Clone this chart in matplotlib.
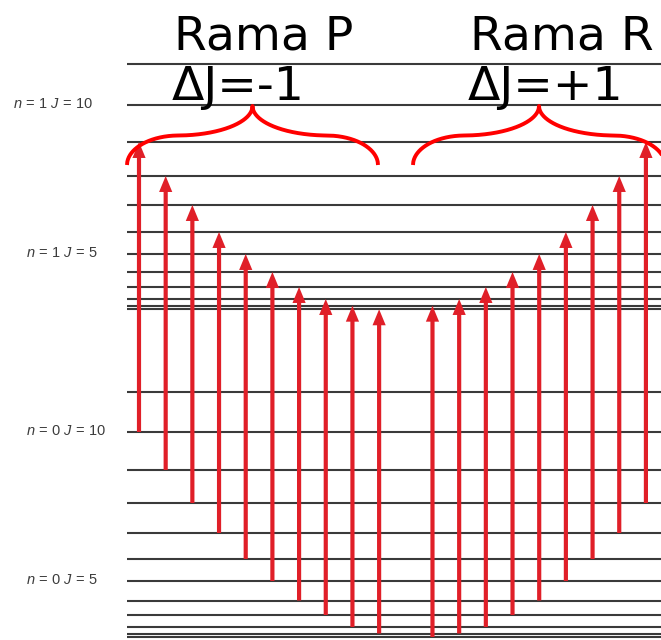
import numpy as np
import matplotlib
matplotlib.use("Agg")
import matplotlib.pyplot as plt
from matplotlib.patches import FancyArrowPatch, ArrowStyle

plt.rcParams['mathtext.fontset'] = 'custom'
plt.rcParams['mathtext.rm'] = 'Liberation Sans'
plt.rcParams['mathtext.it'] = 'Liberation Sans:italic'

# ---------------- data ----------------
J_levels = list(range(12))
# energies (arbitrary units)
upper_E = [330.7, 334.3, 341, 353, 368, 386, 408, 435, 464, 498, 535, 576]   # n = 1
lower_E = [3, 6.5, 13, 25, 39.5, 59, 81, 107, 137, 170, 208, 248]          # n = 0

P_lower_J = [10, 9, 8, 7, 6, 5, 4, 3, 2, 1]   # ΔJ = -1
R_lower_J = [0, 1, 2, 3, 4, 5, 6, 7, 8]       # ΔJ = +1

branch_titles = ["Rama P", "Rama R"]
branch_rules = ["ΔJ=-1", "ΔJ=+1"]

level_labels = [("1", 10, "upper"), ("1", 5, "upper"),
                ("0", 10, "lower"), ("0", 5, "lower")]

# ---------------- layout ----------------
W, H = 661, 640
fig = plt.figure(figsize=(W / 100, H / 100), dpi=100)
ax = fig.add_axes([0, 0, 1, 1])
ax.set_xlim(0, W)
ax.set_ylim(0, H)
ax.axis('off')

X_LINE0 = 127
X0 = 139.0
DX = 26.68
LINE_COL = '#3a3a3a'
ARROW_COL = '#e01f28'
BRACE_COL = '#ff0000'

for E in upper_E + lower_E:
    ax.plot([X_LINE0, W + 5], [E, E], color=LINE_COL, lw=1.5, solid_capstyle='butt', zorder=1)

style = ArrowStyle('Simple', head_length=11.5, head_width=9.5, tail_width=3.0)

def draw_arrow(slot, jl, ju):
    x = X0 + slot * DX
    a = FancyArrowPatch((x, lower_E[jl]), (x, upper_E[ju]), arrowstyle=style,
                        mutation_scale=1, shrinkA=0, shrinkB=0, lw=0,
                        color=ARROW_COL, zorder=3)
    ax.add_patch(a)

for i, jl in enumerate(P_lower_J):
    draw_arrow(i, jl, jl - 1)
for i, jl in enumerate(R_lower_J):
    draw_arrow(len(P_lower_J) + 1 + i, jl, jl + 1)

# braces
def brace(xc, half_w, y_tip, y_end):
    h = y_tip - y_end
    h1 = h / 2
    a = 0.41 * half_w
    b = 0.6 * half_w
    u = np.linspace(0, half_w, 400)
    f1 = np.sqrt(np.clip(1 - (1 - np.minimum(u, a) / a) ** 2, 0, 1))
    t = np.clip((u - (half_w - b)) / b, 0, 1)
    g = 1 - np.sqrt(np.clip(1 - t ** 2, 0, 1))
    y = y_end + h1 * f1 + (h - h1) * g
    xl = xc - half_w + u
    xr = xc + half_w - u
    ax.plot(np.concatenate([xl, xr[::-1]]), np.concatenate([y, y[::-1]]),
            color=BRACE_COL, lw=2.8, solid_capstyle='butt', zorder=4)

brace_tip = upper_E[10] - 1
brace_end = 640 - 165
brace(252.5, 125.5, brace_tip, brace_end)
brace(539, 126, brace_tip, brace_end)

# titles
for x, t, r in zip([174, 470], branch_titles, branch_rules):
    ax.text(x, 640 - 50, t, fontsize=34, family='DejaVu Sans', ha='left', va='baseline', zorder=5)
    ax.text(x - 2, 640 - 100, r, fontsize=34, family='DejaVu Sans', ha='left', va='baseline', zorder=5)

# level labels
for (n, J, which), xl in zip(level_labels, [13, 26, 26, 26]):
    E = upper_E[J] if which == 'upper' else lower_E[J]
    ax.text(xl, E + 1.5, r'$n\,=\,%s\ J\,=\,%d$' % (n, J), fontsize=10.5, color='#3c3c3c',
            ha='left', va='center')

fig.savefig('out.png', dpi=100)
